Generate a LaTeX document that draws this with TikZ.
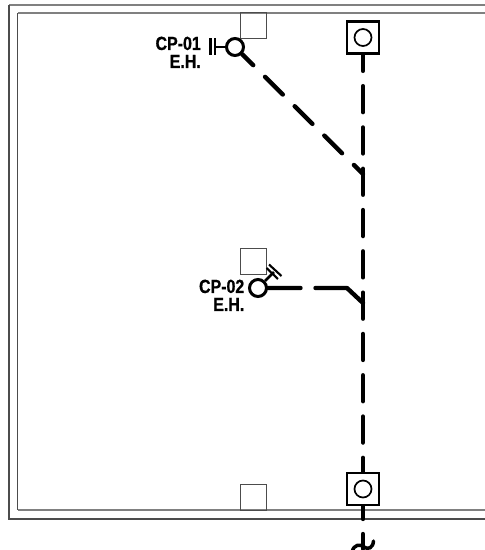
\documentclass[tikz,border=0pt]{standalone}
\usepackage{fontspec}
\newfontfamily\tagfont[FakeStretch=0.84,FakeBold=0.8]{Liberation Sans}
\tikzset{sitebox/.style={draw,line width=2.7pt,minimum size=32pt,inner sep=0pt},
	sitering/.style={draw,circle,line width=1.7pt,minimum size=17pt,inner sep=0pt},
	tapring/.style={draw,circle,line width=3pt,minimum size=17pt,inner sep=0pt},
	gaugebox/.style={draw=black!70,line width=0.9pt,minimum size=26pt,inner sep=0pt},
	taglabel/.style={font=\tagfont\bfseries\fontsize{19}{18}\selectfont,align=right,inner sep=0pt},
	framedark/.style={draw=black!70,line width=1.3pt},
	framegrey/.style={draw=black!50,line width=1.7pt},
	pipe/.style={line width=4.4pt,line cap=round,line join=round},
	barline/.style={line width=2.1pt}}

\begin{document}
\begin{tikzpicture}[x=1pt,y=-1pt]
\useasboundingbox (0,0) rectangle (485,550);
% frame
\draw[framegrey] (485,5) -- (9,5);
\draw[framedark] (9,5) -- (9,519) -- (485,519);
\draw[framegrey] (485,13) -- (17.5,13);
\draw[framedark] (17.5,13) -- (17.5,510);
\draw[framegrey] (17.5,510) -- (485,510);
% gauge squares
\node [gaugebox] (g1) at (253,25) {};
\node [gaugebox] (g2) at (253,261.5) {};
\node [gaugebox] (g3) at (253,497.5) {};
% end boxes
\node [sitebox,fill=white] (topbox) at (363,37.5) {};
\node [sitering] (topring) at (363,37.5) {};
\node [sitebox,fill=white] (botbox) at (363,489) {};
\node [sitering] (botring) at (363,489) {};
% tap points
\node [tapring] (ring1) at (235,47) {};
\node [tapring] (ring2) at (258,288) {};
\node [taglabel,anchor=north east] (tag1) at (201,36.5) {CP-01\\E.H.};
\node [taglabel,anchor=north east] (tag2) at (244.5,279.5) {CP-02\\E.H.};
\coordinate (j1) at (363,174);
\coordinate (bend) at (347,288);
\coordinate (j2) at (363,303);
\coordinate (stub) at (363,519);
\coordinate (tail) at (363,534);
\coordinate (stem1) at (215,47);
\coordinate (stem2) at (274,272);
% main line
\draw[pipe,dash pattern=on 26pt off 15.3pt,dash phase=10pt] (topbox.south) -- (botbox.north);
\draw[pipe] (botbox.south) -- (stub);
% branches
\draw[pipe,dash pattern=on 25pt off 16.7pt,dash phase=9.3pt] (ring1.south east) -- (j1);
\draw[pipe,dash pattern=on 32.5pt off 15pt on 60pt off 10pt] (ring2.east) -- (bend) -- (j2);
% valve marks
\draw[barline] (ring1.west) -- (stem1);
\draw[barline] (215,38) -- (215,55);
\draw[barline] (210.5,38) -- (210.5,55);
\draw[barline,line width=2.6pt] (ring2.north east) -- (stem2);
\draw[barline] (269,264.5) -- (281.5,276);
\draw[barline] (266.5,268) -- (278,279);
% cable tail
\draw[pipe] (tail) -- (363,549);
\draw[pipe,line width=3.5pt] (352,552) .. controls (354,544) and (360,544) .. (364,547) .. controls (368,550) and (373,548) .. (373.5,541);
\end{tikzpicture}
\end{document}
